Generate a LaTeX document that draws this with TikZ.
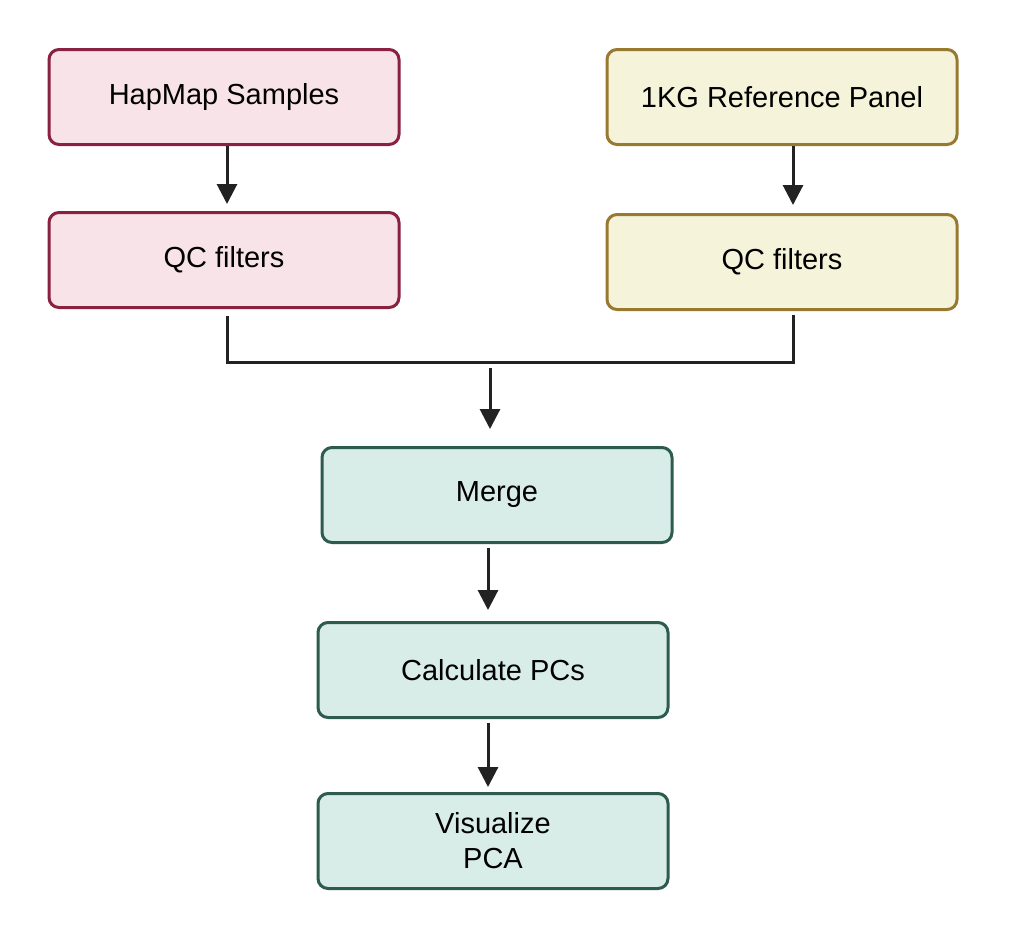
\documentclass[tikz,border=0pt]{standalone}
\usepackage{fontspec}
\setmainfont{Liberation Sans}
\usetikzlibrary{arrows.meta}
\definecolor{pinkfill}{HTML}{F8E4E8}
\definecolor{pinkdraw}{HTML}{8A2141}
\definecolor{yelfill}{HTML}{F5F3DA}
\definecolor{yeldraw}{HTML}{977A30}
\definecolor{tealfill}{HTML}{D8ECE8}
\definecolor{tealdraw}{HTML}{2D5C4F}
\definecolor{arrowcol}{HTML}{222222}
\tikzset{
  box/.style={rectangle, rounded corners=10pt, line width=3pt, minimum width=350pt, minimum height=95pt, align=center, font=\fontsize{29}{35}\selectfont, inner sep=0pt},
  pinkbox/.style={box, fill=pinkfill, draw=pinkdraw},
  yelbox/.style={box, fill=yelfill, draw=yeldraw},
  tealbox/.style={box, fill=tealfill, draw=tealdraw},
  arr/.style={draw=arrowcol, line width=3pt, -{Triangle[length=20pt,width=20pt]}},
  ln/.style={draw=arrowcol, line width=3pt}
}
\begin{document}
\begin{tikzpicture}[x=1pt,y=-1pt]
\useasboundingbox[fill=white] (0,0) rectangle (1032,938);
\node[pinkbox] (hap) at (224,97) {HapMap Samples};
\node[pinkbox] (qcl) at (224,260) {QC filters};
\node[yelbox] (kg) at (782,97) {1KG Reference Panel};
\node[yelbox] (qcr) at (782,262) {QC filters};
\node[tealbox] (merge) at (497,495) {Merge};
\node[tealbox] (calc) at (493,670) {Calculate PCs};
\node[tealbox] (vis) at (493,841) {Visualize\\PCA};
\coordinate (jl) at (227,362);
\coordinate (jr) at (793,362);
\coordinate (mtop) at (490,368);
\draw[arr, shorten >=7pt] (hap.south -| 227,0) -- (qcl.north -| 227,0);
\draw[arr, shorten >=8pt] (kg.south -| 793,0) -- (qcr.north -| 793,0);
\draw[ln] (qcl.south -| jl) ++(0,7) |- (jr) -- ++(0,-47);
\draw[arr, shorten >=17pt] (mtop) -- (merge.north -| mtop);
\draw[arr, shorten >=11pt] (merge.south -| 488,0) ++(0,4) -- (calc.north -| 488,0);
\draw[arr, shorten >=5pt] (calc.south -| 488,0) ++(0,4) -- (vis.north -| 488,0);
\end{tikzpicture}
\end{document}
